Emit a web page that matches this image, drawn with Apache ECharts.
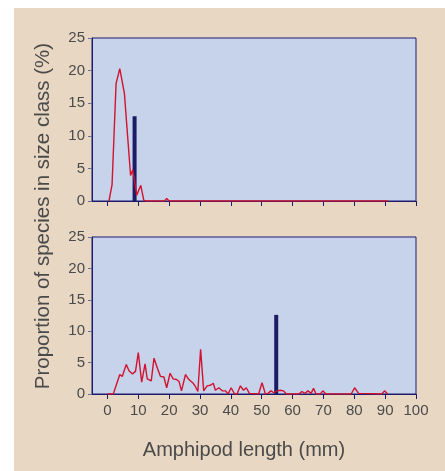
<!DOCTYPE html>
<html>
<head>
<meta charset="utf-8">
<script src="https://cdn.jsdelivr.net/npm/echarts@6/dist/echarts.min.js"></script>
<style>
html,body{margin:0;padding:0;background:#ffffff;}
#bg{position:absolute;left:14px;top:8px;width:431px;height:463px;background:#e8d8c3;}
#chart{position:absolute;left:0;top:0;width:445px;height:471px;}
</style>
</head>
<body>
<div id="bg"></div>
<div id="chart"></div>
<script>
// ---- data ----
var xTicks = [0,10,20,30,40,50,60,70,80,90,100];
var yTicks = [0,5,10,15,20,25];
var topLine = [[0.5,0],[1.5,2.5],[2.8,18],[4,20.3],[5.5,16.5],[7.5,3.9],[8.2,4.8],[9.5,0.9],[10.8,2.4],[11.8,0.1],[12.5,0],[18.5,0],[19.2,0.4],[20,0],[91,0]];
var topBar = [[8.8,13.0]];
var bottomLine = [[0,0],[1.9,0],[4.0,3.1],[4.8,2.8],[6.1,4.7],[7.0,3.7],[8.1,3.2],[9.1,3.6],[10.0,6.6],[11.1,1.9],[12.2,4.8],[12.9,2.4],[14.2,2.1],[15.1,5.7],[16.2,4.1],[17.2,2.8],[18.3,2.7],[19.2,1.0],[20.3,3.3],[21.3,2.4],[22.4,2.3],[23.2,2.0],[24.0,0.5],[25.3,3.1],[26.4,2.3],[27.8,1.7],[28.5,1.2],[29.3,0.4],[30.2,7.1],[31.2,0.5],[32.3,1.3],[33.4,1.4],[34.3,1.7],[35.0,0.6],[36.1,1.0],[37.2,0.5],[38.3,0.5],[39.1,0],[40.1,1.0],[41.2,0],[42.0,0],[43.1,1.3],[44.1,0.6],[45.0,1.0],[46.0,0.1],[49.0,0],[50.1,1.8],[51.2,0],[52.0,0.1],[53.0,0.5],[53.9,0.2],[55.0,0.5],[56.0,0.6],[57.0,0.5],[58.0,0],[62.0,0],[63.0,0.4],[64.0,0.1],[65.0,0.5],[66.0,0.1],[66.8,0.9],[67.6,0],[69.0,0],[69.8,0.5],[70.8,0],[79.0,0],[80.1,1.0],[81.4,0.1],[82.0,0],[88.9,0],[89.8,0.5],[90.8,0]];
var bottomBar = [[54.7,12.6]];
var xTitle = 'Amphipod length (mm)';
var yTitle = 'Proportion of species in size class (%)';

var navy = '#1c1c6e';
var tickGray = '#6e6e96';
var textCol = '#4a4a4a';
var red = '#d2122e';
var font = 'Liberation Sans, Arial, sans-serif';

function xAxisCfg(idx, showLabels){
  return {
    type:'value', gridIndex: idx, min:-5, max:100,
    axisLine:{show:true, onZero:false, lineStyle:{color:navy, width:1}},
    axisTick:{show:true, customValues:xTicks, length:5, lineStyle:{color:navy, width:1}},
    axisLabel:{show:showLabels, customValues:xTicks, color:textCol, fontSize:15, fontFamily:font, margin:9},
    splitLine:{show:false}
  };
}
function yAxisCfg(idx){
  return {
    type:'value', gridIndex: idx, min:0, max:25, interval:5,
    axisLine:{show:true, onZero:false, lineStyle:{color:navy, width:1}},
    axisTick:{show:true, length:4, lineStyle:{color:tickGray, width:1}},
    axisLabel:{color:textCol, fontSize:15, fontFamily:font, margin:7},
    splitLine:{show:false}
  };
}

var chart = echarts.init(document.getElementById('chart'), null, {renderer:'canvas'});
chart.setOption({
  animation:false,
  grid:[
    {left:92, top:38, width:324, height:163, show:true, backgroundColor:'#c7d3ea', borderColor:navy, borderWidth:1},
    {left:92, top:237, width:324, height:157, show:true, backgroundColor:'#c7d3ea', borderColor:navy, borderWidth:1}
  ],
  xAxis:[xAxisCfg(0,false), xAxisCfg(1,true)],
  yAxis:[yAxisCfg(0), yAxisCfg(1)],
  series:[
    {type:'bar', xAxisIndex:0, yAxisIndex:0, data:topBar, barWidth:4, itemStyle:{color:'#1b1b66'}, z:2},
    {type:'line', xAxisIndex:0, yAxisIndex:0, data:topLine, symbol:'none', lineStyle:{color:red, width:1.4}, z:3},
    {type:'bar', xAxisIndex:1, yAxisIndex:1, data:bottomBar, barWidth:4, itemStyle:{color:'#1b1b66'}, z:2},
    {type:'line', xAxisIndex:1, yAxisIndex:1, data:bottomLine, symbol:'none', lineStyle:{color:red, width:1.4}, z:3}
  ],
  graphic:[
    {type:'text', x:244, y:450, style:{text:xTitle, fill:textCol, font:'20px '+font, textAlign:'center', textVerticalAlign:'middle'}},
    {type:'text', x:43, y:216, rotation:Math.PI/2, style:{text:yTitle, fill:textCol, font:'20.5px '+font, textAlign:'center', textVerticalAlign:'middle'}}
  ]
});
</script>
</body>
</html>
